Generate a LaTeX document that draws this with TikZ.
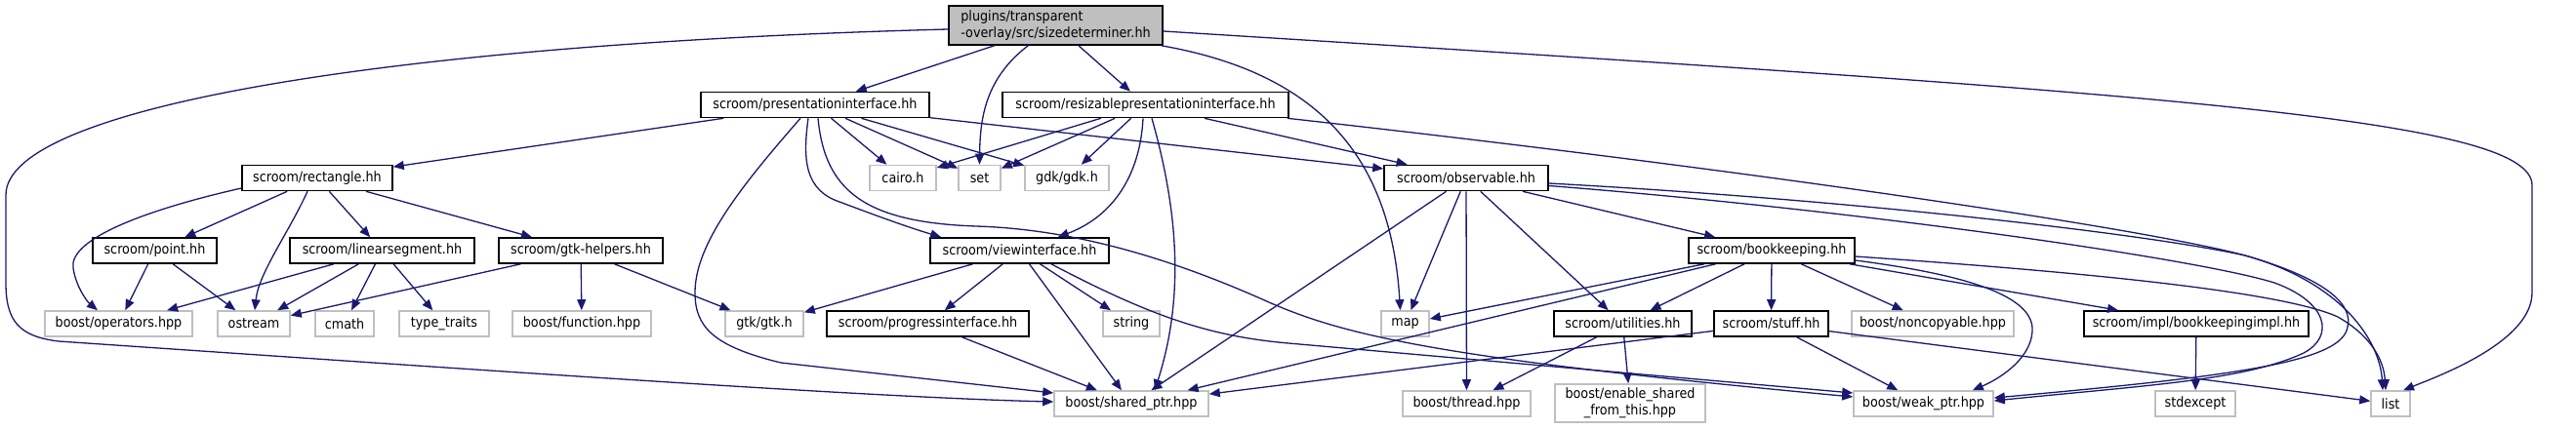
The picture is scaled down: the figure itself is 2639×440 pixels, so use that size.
\documentclass[tikz,border=0pt]{standalone}
\usepackage{fontspec}
\newfontfamily\dvc{DejaVu Sans Condensed}
\usetikzlibrary{arrows.meta}
\definecolor{edgeblue}{HTML}{191970}
\definecolor{extgray}{HTML}{BFBFBF}
\definecolor{rootfill}{HTML}{BFBFBF}
\tikzset{
  nd/.style={draw=black, line width=1.6pt, fill=white, inner sep=0pt, minimum height=26pt,
    font=\dvc\fontsize{14.2}{16.5}\selectfont, text=black},
  ext/.style={nd, draw=extgray},
  e/.style={draw=edgeblue, line width=1.3pt, -{Triangle[length=11pt,width=9pt]}},
}
\begin{document}
\begin{tikzpicture}[x=1pt,y=-1pt]
\useasboundingbox (0,0) rectangle (2639,440);
% nodes
\node[nd, fill=rootfill, minimum width=219pt, minimum height=40pt, align=left] (root) at (1081.5,26) {plugins/transparent\\-overlay/src/sizedeterminer.hh};
\node[nd, minimum width=234pt] (pres) at (835,107.5) {scroom/presentationinterface.hh};
\node[nd, minimum width=293pt] (resz) at (1173.5,107.5) {scroom/resizablepresentationinterface.hh};
\node[nd, minimum width=154pt] (rect) at (325,182.5) {scroom/rectangle.hh};
\node[ext, minimum width=68pt] (cairo) at (925,182.5) {cairo.h};
\node[ext, minimum width=43pt] (set) at (1003.5,182.5) {set};
\node[ext, minimum width=86pt] (gdk) at (1093,182.5) {gdk/gdk.h};
\node[nd, minimum width=168pt] (obs) at (1502,182.5) {scroom/observable.hh};
\node[nd, minimum width=127pt] (point) at (158.5,257) {scroom/point.hh};
\node[nd, minimum width=189pt] (linseg) at (391.5,257) {scroom/linearsegment.hh};
\node[nd, minimum width=168pt] (gtkh) at (595,257) {scroom/gtk-helpers.hh};
\node[nd, minimum width=183pt] (view) at (1044.5,257) {scroom/viewinterface.hh};
\node[nd, minimum width=170pt] (book) at (1815,257) {scroom/bookkeeping.hh};
\node[ext, minimum width=151pt] (ops) at (121.5,332) {boost/operators.hpp};
\node[ext, minimum width=74pt] (ostream) at (260,332) {ostream};
\node[ext, minimum width=60pt] (cmath) at (353,332) {cmath};
\node[ext, minimum width=92pt] (typetr) at (455,332) {type\_traits};
\node[ext, minimum width=142pt] (func) at (596,332) {boost/function.hpp};
\node[ext, minimum width=80pt] (gtk) at (783,332) {gtk/gtk.h};
\node[nd, minimum width=207pt] (prog) at (950.5,332) {scroom/progressinterface.hh};
\node[ext, minimum width=58pt] (string) at (1159,332) {string};
\node[ext, minimum width=49pt] (map) at (1439.5,332) {map};
\node[nd, minimum width=141pt] (util) at (1662.5,332) {scroom/utilities.hh};
\node[nd, minimum width=117pt] (stuff) at (1814.5,332) {scroom/stuff.hh};
\node[ext, minimum width=166pt] (noncop) at (1980,332) {boost/noncopyable.hpp};
\node[nd, minimum width=230pt] (bkimpl) at (2250,332) {scroom/impl/bookkeepingimpl.hh};
\node[ext, minimum width=158pt] (shptr) at (1159,414) {boost/shared\_ptr.hpp};
\node[ext, minimum width=131pt] (thread) at (1502.5,414) {boost/thread.hpp};
\node[ext, minimum width=154pt, minimum height=39pt, align=center] (enable) at (1670,413.5) {boost/enable\_shared\\\_from\_this.hpp};
\node[ext, minimum width=143pt] (weak) at (1970.5,414) {boost/weak\_ptr.hpp};
\node[ext, minimum width=82pt] (stdexcept) at (2249,414) {stdexcept};
\node[ext, minimum width=40pt] (list) at (2449,414) {list};
% straight edges
\foreach \a/\b in {root/pres, root/resz,
  pres/rect, pres/cairo, pres/set, pres/gdk, pres/obs,
  resz/cairo, resz/set, resz/gdk, resz/obs,
  rect/point, rect/linseg, rect/gtkh,
  point/ops, point/ostream,
  linseg/ops, linseg/ostream, linseg/cmath, linseg/typetr,
  gtkh/ostream, gtkh/func, gtkh/gtk,
  view/gtk, view/prog, view/shptr, view/string,
  prog/shptr,
  obs/shptr, obs/map, obs/thread, obs/util, obs/book,
  book/map, book/shptr, book/util, book/stuff, book/noncop, book/bkimpl,
  util/thread, util/enable,
  stuff/shptr, stuff/weak, stuff/list,
  bkimpl/stdexcept}
  \draw[e] (\a) -- (\b);
% curved edges
\draw[e] ([yshift=-4pt]root.west) .. controls (400,45) and (6,110) .. (6,200) -- (6,290)
  .. controls (6,330) and (20,345) .. (60,350) .. controls (500,380) and (900,408) .. ([yshift=2pt]shptr.west);
\draw[e] ([xshift=82pt]root.south west) .. controls (1010,80) and (1004,120) .. (set.north);
\draw[e] ([xshift=-2pt]root.south east) .. controls (1350,75) and (1425,160) .. ([xshift=-5pt]map.north);
\draw[e] ([yshift=-6pt]root.east) .. controls (2200,95) and (2594,120) .. (2594,190) -- (2594,300)
  .. controls (2594,350) and (2500,385) .. ([xshift=13pt]list.north);
\draw[e] ([xshift=-7pt]pres.south) .. controls (822,165) and (825,195) .. (860,207)
  .. controls (900,222) and (930,233) .. ([xshift=12pt]view.north west);
\draw[e] ([xshift=3pt]pres.south) .. controls (845,195) and (885,228) .. (1000,232)
  .. controls (1100,235) and (1200,265) .. (1300,310)
  .. controls (1380,345) and (1480,368) .. ([yshift=7pt]weak.west);
\draw[e] ([xshift=-15pt]pres.south) .. controls (760,190) and (712,250) .. (712,300)
  .. controls (712,335) and (730,355) .. (800,372) -- ([yshift=11pt]shptr.west);
\draw[e] ([xshift=-2.5pt]resz.south) .. controls (1168,180) and (1140,222) .. ([xshift=-53pt]view.north east);
\draw[e] ([xshift=6.5pt]resz.south) .. controls (1205,210) and (1215,300) .. ([xshift=24pt]shptr.north);
\draw[e] ([xshift=-2pt]resz.south east) .. controls (1800,175) and (2200,235) .. (2300,262)
  .. controls (2390,288) and (2410,315) .. (2405,335)
  .. controls (2400,370) and (2300,385) .. ([yshift=6pt]weak.east);
\draw[e] ([yshift=-8pt]obs.east) .. controls (1900,215) and (2250,265) .. (2330,290)
  .. controls (2385,310) and (2392,345) .. (2360,362)
  .. controls (2300,390) and (2200,395) .. ([yshift=3pt]weak.east);
\draw[e] ([yshift=-5.5pt]obs.east) .. controls (1900,205) and (2200,240) .. (2300,262)
  .. controls (2400,290) and (2438,350) .. ([xshift=-8pt]list.north);
\draw[e] ([yshift=-6pt]book.east) .. controls (2150,280) and (2340,300) .. (2395,325)
  .. controls (2430,345) and (2442,370) .. ([xshift=-5pt]list.north);
\draw[e] ([yshift=-10pt]book.east) .. controls (2000,280) and (2085,300) .. (2082,340)
  .. controls (2080,370) and (2045,390) .. ([xshift=-22pt]weak.north east);
\draw[e] ([yshift=-10.5pt]rect.west) .. controls (150,215) and (70,245) .. (75,275)
  .. controls (78,295) and (90,310) .. ([xshift=-21.5pt]ops.north);
\draw[e] ([xshift=-10pt]rect.south) .. controls (295,240) and (265,280) .. ([xshift=1pt]ostream.north);
\draw[e] ([xshift=32.5pt]view.south) .. controls (1180,325) and (1240,345) .. (1320,352) -- ([yshift=11pt]weak.west);
\end{tikzpicture}
\end{document}
